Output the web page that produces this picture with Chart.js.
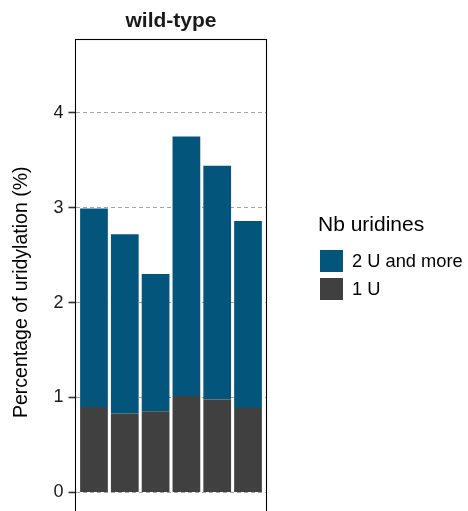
<!DOCTYPE html>
<html><head><meta charset="utf-8">
<script src="https://cdn.jsdelivr.net/npm/chart.js@4.4.1/dist/chart.umd.min.js"></script>
<style>
html,body{margin:0;padding:0;overflow:hidden;background:#fff;width:468px;height:511px}
canvas{display:block}
</style></head>
<body>
<canvas id="c" width="468" height="545"></canvas>
<script>
// ---- data ----
const categories = ['1', '2', '3', '4', '5', '6'];
const oneU = [0.90, 0.83, 0.855, 1.015, 0.98, 0.89];
const twoUAndMore = [2.09, 1.89, 1.445, 2.735, 2.46, 1.97];
const yTicks = [0, 1, 2, 3, 4];
const seriesLabels = ['1 U', '2 U and more'];
const seriesColors = ['#404040', '#03557b'];
const legendTitle = 'Nb uridines';
const panelTitle = 'wild-type';
const yTitle = 'Percentage of uridylation (%)';

const FONT = "'Liberation Sans', Arial, Helvetica, sans-serif";

const toPoints = arr => arr.map((v, i) => ({ x: i + 1, y: v }));

const decorPlugin = {
  id: 'decor',
  afterDraw(chart) {
    const ctx = chart.ctx;
    const a = chart.chartArea;
    ctx.save();
    // panel border
    ctx.strokeStyle = '#000';
    ctx.lineWidth = 1.1;
    ctx.setLineDash([]);
    ctx.strokeRect(a.left, a.top, a.right - a.left, a.bottom - a.top);
    // panel title
    ctx.fillStyle = '#1a1a1a';
    ctx.font = 'bold 21px ' + FONT;
    ctx.textAlign = 'center';
    ctx.textBaseline = 'alphabetic';
    ctx.fillText(panelTitle, (a.left + a.right) / 2, 26.5);
    // legend
    ctx.textAlign = 'left';
    ctx.fillStyle = '#000';
    ctx.font = '21px ' + FONT;
    ctx.fillText(legendTitle, 318, 231);
    const ds = chart.data.datasets.slice().reverse();
    ds.forEach((d, i) => {
      const y = 250 + i * 28;
      ctx.fillStyle = d.backgroundColor;
      ctx.fillRect(320, y, 23, 22);
      ctx.fillStyle = '#000';
      ctx.font = '18.3px ' + FONT;
      ctx.textBaseline = 'middle';
      ctx.fillText(d.label, 352, y + 11.5);
      ctx.textBaseline = 'alphabetic';
    });
    ctx.restore();
  }
};

new Chart(document.getElementById('c'), {
  type: 'bar',
  data: {
    labels: categories,
    datasets: [
      { label: seriesLabels[0], data: toPoints(oneU), backgroundColor: seriesColors[0], borderWidth: 0 },
      { label: seriesLabels[1], data: toPoints(twoUAndMore), backgroundColor: seriesColors[1], borderWidth: 0 }
    ]
  },
  options: {
    responsive: false,
    animation: false,
    barPercentage: 0.9,
    categoryPercentage: 1.0,
    layout: { padding: { top: 39.5, right: 201.5, left: 0, bottom: 0 } },
    plugins: { legend: { display: false }, tooltip: { enabled: false }, title: { display: false } },
    scales: {
      x: {
        type: 'linear', stacked: true, min: 0.4, max: 6.6, display: false, offset: false,
        grid: { offset: false }
      },
      y: {
        stacked: true, min: -0.554, max: 4.771,
        afterBuildTicks(scale) { scale.ticks = yTicks.map(v => ({ value: v })); },
        afterFit(scale) { scale.width = 75.5; scale.paddingTop = 0; scale.paddingBottom = 0; },
        grid: { color: '#a6a6a6', lineWidth: 1, tickLength: 7, tickColor: '#333333', tickWidth: 1.6, drawTicks: true },
        border: { display: false, dash: [4, 3] },
        ticks: { color: '#1a1a1a', font: { family: FONT, size: 18 }, padding: 5 },
        title: { display: true, text: yTitle, color: '#000', font: { family: FONT, size: 19.5 }, padding: { top: 10, bottom: 0 } }
      }
    }
  },
  plugins: [decorPlugin]
});
</script>
</body></html>
